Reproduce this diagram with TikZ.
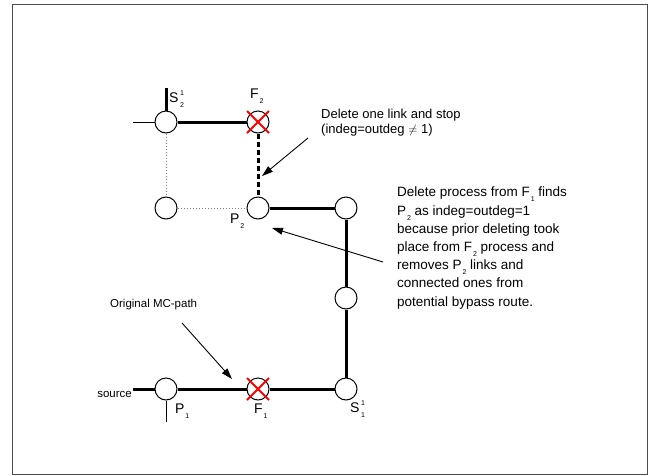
\documentclass[tikz,border=0pt]{standalone}
\usepackage{fontspec}
\setmainfont{Liberation Sans}
\usetikzlibrary{arrows.meta}
\newcommand{\lsub}[1]{\kern0.8pt\raisebox{-5pt}{\fontsize{7}{7}\selectfont #1}}
\newcommand{\lsubsup}[2]{\kern1.5pt\rlap{\raisebox{7pt}{\fontsize{7}{7}\selectfont #1}}\raisebox{-5pt}{\fontsize{7}{7}\selectfont #2}}
\begin{document}
\begin{tikzpicture}[x=1pt,y=-1pt,
  vtx/.style={circle,draw,fill=white,minimum size=22pt,inner sep=0pt,line width=1pt},
  thickline/.style={line width=3pt},
  thinline/.style={line width=1pt},
  dotline/.style={line width=1pt,gray,dash pattern=on 1.5pt off 1.5pt},
  dashline/.style={line width=3pt,dash pattern=on 5pt off 3pt},
  redx/.style={red,line width=1.8pt},
  pointer/.style={line width=0.9pt,-{Triangle[length=11pt,width=7pt]}},
  lbl/.style={anchor=base west,inner sep=0pt,font=\fontsize{14}{16}\selectfont},
  note/.style={anchor=base west,inner sep=0pt,align=left},
  every node/.append style={text=black}]
\useasboundingbox (0,0) rectangle (654,475);
\draw[line width=1pt,black!70] (12,4) rectangle (647,474);

% vertices
\node[vtx] (s2) at (166,122) {};
\node[vtx] (f2) at (258,122) {};
\node[vtx] (bl) at (166,208) {};
\node[vtx] (p2) at (258,208) {};
\node[vtx] (r1) at (346,208) {};
\node[vtx] (r2) at (346,298) {};
\node[vtx] (s1) at (346,389) {};
\node[vtx] (f1) at (258,389) {};
\node[vtx] (p1) at (166,389) {};

% free ends
\coordinate (s2up) at (166,88);
\coordinate (s2left) at (133,122);
\coordinate (src) at (133,389);
\coordinate (p1down) at (166,422);

% links
\draw[thickline] (s2) -- (s2up);
\draw[thinline] (s2) -- (s2left);
\draw[thickline] (s2) -- (f2);
\draw[dotline] (s2) -- (bl);
\draw[dotline] (bl) -- (p2);
\draw[dashline] (f2) -- (p2);
\draw[thickline] (p2) -- (r1);
\draw[thickline] (r1) -- (r2);
\draw[thickline] (r2) -- (s1);
\draw[thickline] (s1) -- (f1);
\draw[thickline] (f1) -- (p1);
\draw[thickline] (p1) -- (src);
\draw[thinline] (p1) -- (p1down);

% failed nodes
\draw[redx] ([shift={(-11,-11)}]f2.center) -- ([shift={(11,11)}]f2.center);
\draw[redx] ([shift={(-11,11)}]f2.center) -- ([shift={(11,-11)}]f2.center);
\draw[redx] ([shift={(-11,-11)}]f1.center) -- ([shift={(11,11)}]f1.center);
\draw[redx] ([shift={(-11,11)}]f1.center) -- ([shift={(11,-11)}]f1.center);

% labels
\node[lbl] (ls2) at (169,102) {S\lsubsup{1}{2}};
\node[lbl] (lf2) at (250,98) {F\lsub{2}};
\node[lbl] (lp2) at (230,223) {P\lsub{2}};
\node[lbl] (lp1) at (175,413) {P\lsub{1}};
\node[lbl] (lf1) at (254,413) {F\lsub{1}};
\node[lbl] (ls1) at (350,412) {S\lsubsup{1}{1}};
\node[anchor=base east,inner sep=0pt,font=\fontsize{11.5}{13}\selectfont] (lsrc) at (132,397) {source};

% annotations (base anchor = last line)
\node[note,font=\fontsize{13}{15}\selectfont] (n1) at (321,133) {Delete one link and stop\\(indeg=outdeg $\neq$ 1)};
\node[note,font=\fontsize{13.5}{18.2}\selectfont] (n2) at (397,306) {Delete process from F\lsub{1} finds\\P\lsub{2} as indeg=outdeg=1\\because prior deleting took\\place from F\lsub{2} process and\\removes P\lsub{2} links and\\connected ones from\\potential bypass route.};
\node[note,font=\fontsize{11.5}{13}\selectfont] (n3) at (110,307) {Original MC-path};

\coordinate (a1s) at (308,138);
\coordinate (a1e) at (262,176);
\coordinate (a2s) at (383,262);
\coordinate (a2e) at (272,228);
\coordinate (a3s) at (182,323);
\coordinate (a3e) at (232,379);
\draw[pointer] (a1s) -- (a1e);
\draw[pointer] (a2s) -- (a2e);
\draw[pointer] (a3s) -- (a3e);
\end{tikzpicture}
\end{document}
